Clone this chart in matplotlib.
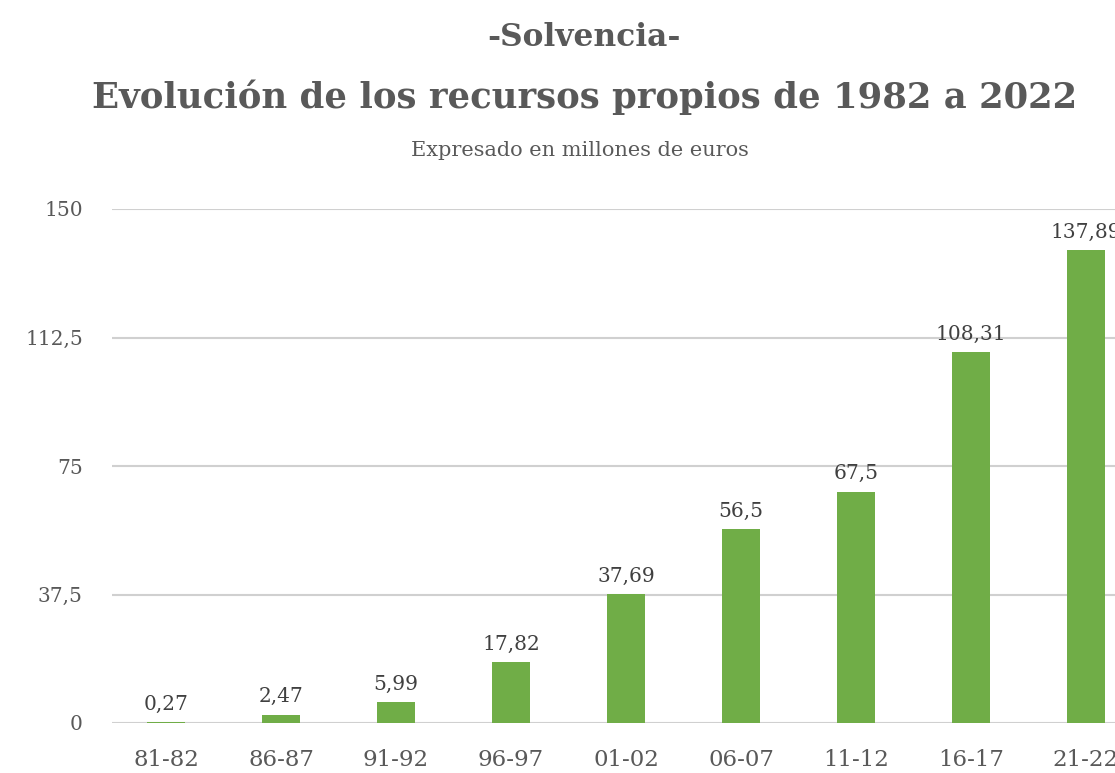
import matplotlib
matplotlib.use("Agg")
import matplotlib.pyplot as plt

categories = ["81-82", "86-87", "91-92", "96-97", "01-02", "06-07", "11-12", "16-17", "21-22"]
values = [0.27, 2.47, 5.99, 17.82, 37.69, 56.5, 67.5, 108.31, 137.89]
labels = ["0,27", "2,47", "5,99", "17,82", "37,69", "56,5", "67,5", "108,31", "137,89"]
yticks = [0, 37.5, 75, 112.5, 150]
ytick_labels = ["0", "37,5", "75", "112,5", "150"]

FONT = "DejaVu Serif"
TXT = "#595959"
GREEN = "#70AD47"

fig = plt.figure(figsize=(11.15, 7.73), dpi=100)
ax = fig.add_axes([112/1115, 50/773, (1140-112)/1115, 514/773])

x = list(range(len(categories)))
ax.bar(x, values, width=0.33, color=GREEN, zorder=3)
for xi, v, lab in zip(x, values, labels):
    ax.annotate(lab, (xi, v), xytext=(0, 6), textcoords="offset points",
                ha="center", va="bottom", fontsize=14.5, color="#404040",
                family=FONT, annotation_clip=False)

ax.set_xlim(-0.47, 8.47)
ax.set_ylim(0, 150)
ax.set_yticks(yticks)
ax.set_yticklabels(ytick_labels, family=FONT, fontsize=14.5, color=TXT)
ax.set_xticks(x)
ax.set_xticklabels(categories, family=FONT, fontsize=16.5, color=TXT)
ax.tick_params(axis="y", length=0, pad=21)
ax.tick_params(axis="x", length=0, pad=19)
ax.grid(axis="y", color="#D0D0D0", linewidth=1.5, zorder=0)
for s in ax.spines.values():
    s.set_visible(False)

fig.text(0.524, 1 - 37/773, "-Solvencia-", ha="center", va="center",
         fontsize=22.5, fontweight="bold", color=TXT, family=FONT)
fig.text(0.524, 1 - 97/773, "Evolución de los recursos propios de 1982 a 2022",
         ha="center", va="center", fontsize=25.5, fontweight="bold", color=TXT, family=FONT)
fig.text(0.52, 1 - 151/773, "Expresado en millones de euros", ha="center", va="center",
         fontsize=15, color=TXT, family=FONT)

fig.savefig("out.png", dpi=100)
